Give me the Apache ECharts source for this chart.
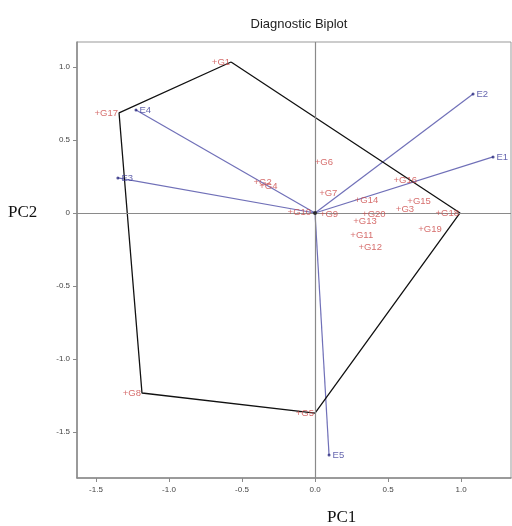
<!DOCTYPE html>
<html><head><meta charset="utf-8">
<script src="https://cdn.jsdelivr.net/npm/echarts@6/dist/echarts.min.js"></script>
<style>html,body{margin:0;padding:0;background:#fff}#c{width:512px;height:526px}</style>
</head><body><div id="c"></div>
<script>
// Genotypes
const genoNames = ['G1','G2','G3','G4','G5','G6','G7','G8','G9','G10','G11','G12','G13','G14','G15','G16','G17','G18','G19','G20'];
const genoPC1 = [-0.575,-0.29,0.685,-0.25,0.0,0.13,0.16,-1.185,0.165,-0.02,0.405,0.465,0.43,0.44,0.80,0.705,-1.342,0.993,0.875,0.49];
const genoPC2 = [1.034,0.21,0.027,0.18,-1.37,0.35,0.137,-1.233,-0.01,0.005,-0.15,-0.235,-0.06,0.089,0.082,0.22,0.685,0.0,-0.11,-0.01];
// Environments
const envNames = ['E1','E2','E3','E4','E5'];
const envPC1 = [1.219,1.082,-1.35,-1.226,0.096];
const envPC2 = [0.384,0.815,0.24,0.705,-1.658];
// Convex hull order
const hullOrder = ['G1','G18','G5','G8','G17','G1'];
// Tick labels
const xTicks = [-1.5,-1.0,-0.5,0.0,0.5,1.0];
const xTickLabels = ['-1.5','-1.0','-0.5','0.0','0.5','1.0'];
const yTicks = [-1.5,-1.0,-0.5,0,0.5,1.0];
const yTickLabels = ['-1.5','-1.0','-0.5','0','0.5','1.0'];
const origin = [0,0];

const chart = echarts.init(document.getElementById('c'));
const genoData = genoNames.map((n,i)=>({name:n,value:[genoPC1[i],genoPC2[i]]}));
const envData = envNames.map((n,i)=>({name:n,value:[envPC1[i],envPC2[i]]}));
const hullData = hullOrder.map(n=>{const i=genoNames.indexOf(n);return [genoPC1[i],genoPC2[i]];});
const vecSeries = envNames.map((n,i)=>({
  type:'line', data:[origin,[envPC1[i],envPC2[i]]], symbol:'none', silent:true,
  lineStyle:{color:'#7070b8',width:1.2}, z:3
}));
const axisCommon = {
  axisLine:{show:true,onZero:false,lineStyle:{color:'#8a8a8a',width:1.5}},
  axisTick:{show:true,inside:false,length:4,lineStyle:{color:'#8a8a8a'}},
  splitLine:{show:false},
  axisLabel:{color:'#444',fontSize:8,fontFamily:'Liberation Sans, Arial'}
};
chart.setOption({
  animation:false,
  title:{text:'Diagnostic Biplot',left:294,textAlign:'center',top:13,
    textStyle:{fontSize:13,fontWeight:'normal',color:'#222',fontFamily:'Liberation Sans, Arial'}},
  grid:{left:77,right:1,top:42,bottom:48,show:true,borderColor:'#999',borderWidth:1},
  xAxis:Object.assign({type:'value',min:-1.63,max:1.342,position:'bottom'},axisCommon,{
    axisTick:Object.assign({},axisCommon.axisTick,{customValues:xTicks}),
    axisLabel:Object.assign({},axisCommon.axisLabel,{customValues:xTicks,margin:8,
      formatter:v=>xTickLabels[xTicks.findIndex(t=>Math.abs(t-v)<1e-9)]})
  }),
  yAxis:Object.assign({type:'value',min:-1.815,max:1.171,position:'left'},axisCommon,{
    axisTick:Object.assign({},axisCommon.axisTick,{customValues:yTicks}),
    axisLabel:Object.assign({},axisCommon.axisLabel,{customValues:yTicks,margin:7,
      formatter:v=>yTickLabels[yTicks.findIndex(t=>Math.abs(t-v)<1e-9)]})
  }),
  graphic:[
    {type:'text',left:327,top:509,style:{text:'PC1',fontSize:17,fontFamily:'Liberation Serif, Times New Roman',fill:'#111'}},
    {type:'text',left:8,top:204,style:{text:'PC2',fontSize:17,fontFamily:'Liberation Serif, Times New Roman',fill:'#111'}}
  ],
  series:[
    {type:'line',data:[],symbol:'none',silent:true,
      markLine:{silent:true,symbol:'none',label:{show:false},
        lineStyle:{color:'#8a8a8a',width:1.2,type:'solid'},
        data:[{xAxis:0},{yAxis:0}]}, z:1},
    {type:'line',data:hullData,symbol:'none',silent:true,lineStyle:{color:'#111',width:1.3},z:4},
    ...vecSeries,
    {type:'scatter',data:genoData,symbolSize:0,z:5,
      label:{show:true,position:'left',distance:1,formatter:p=>'+'+p.name,
        color:'#cc4a48',fontSize:9.5,fontFamily:'Liberation Sans, Arial'}},
    {type:'scatter',data:envData,symbol:'circle',symbolSize:3,itemStyle:{color:'#2a2a80'},z:6,
      label:{show:true,position:'right',distance:2,formatter:p=>p.name,
        color:'#3c3c98',fontSize:9.5,fontFamily:'Liberation Sans, Arial'}},
    {type:'scatter',data:[origin],symbol:'circle',symbolSize:4,itemStyle:{color:'#111'},z:6}
  ]
});
</script></body></html>
